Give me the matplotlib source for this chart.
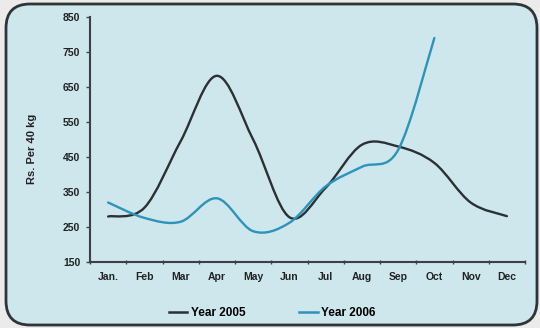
import matplotlib
matplotlib.use("Agg")
import matplotlib.pyplot as plt
from matplotlib.path import Path
from matplotlib.patches import PathPatch, FancyBboxPatch
from matplotlib.lines import Line2D
import numpy as np

plt.rcParams["font.family"] = ["Liberation Sans", "DejaVu Sans"]

months = ["Jan.", "Feb", "Mar", "Apr", "May", "Jun", "Jul", "Aug", "Sep", "Oct", "Nov", "Dec"]
year_2005 = [280, 305, 495, 682, 500, 278, 362, 485, 480, 433, 320, 281]
year_2006 = [320, 276, 265, 332, 238, 262, 366, 422, 470, 790]
y_ticks = [150, 250, 350, 450, 550, 650, 750, 850]

COL_2005 = "#2a3034"
COL_2006 = "#2e93b8"
PANEL = "#cde7ed"

W, H = 540, 328


def smooth_path(xs, ys):
    """Cubic Bezier path through the points (Catmull-Rom style smoothing)."""
    xs = np.asarray(xs, float)
    ys = np.asarray(ys, float)
    n = len(xs)
    verts = [(xs[0], ys[0])]
    codes = [Path.MOVETO]
    for i in range(n - 1):
        p0 = np.array([xs[max(i - 1, 0)], ys[max(i - 1, 0)]])
        p1 = np.array([xs[i], ys[i]])
        p2 = np.array([xs[i + 1], ys[i + 1]])
        p3 = np.array([xs[min(i + 2, n - 1)], ys[min(i + 2, n - 1)]])
        c1 = p1 + (p2 - p0) / 6.0
        c2 = p2 - (p3 - p1) / 6.0
        verts += [tuple(c1), tuple(c2), tuple(p2)]
        codes += [Path.CURVE4] * 3
    return Path(verts, codes)


fig = plt.figure(figsize=(W / 100, H / 100), dpi=100)
fig.patch.set_facecolor("#ebebeb")

# background layer in pixel units holding the rounded panel
bg = fig.add_axes([0, 0, 1, 1], zorder=-5)
bg.set_xlim(0, W)
bg.set_ylim(0, H)
bg.axis("off")
bg.add_patch(FancyBboxPatch((6, 3), 531, 321,
                            boxstyle="round,pad=0,rounding_size=24",
                            facecolor=PANEL, edgecolor="#2f3436",
                            linewidth=2.0))

ax = fig.add_axes([90 / W, 1 - 262 / H, 435 / W, 245 / H], zorder=2)
ax.set_facecolor("none")

x = np.arange(len(months)) + 0.5
for vals, col in ((year_2005, COL_2005), (year_2006, COL_2006)):
    p = smooth_path(x[:len(vals)], vals)
    ax.add_patch(PathPatch(p, facecolor="none", edgecolor=col, lw=1.7,
                           capstyle="round", joinstyle="round", zorder=3))

ax.set_xlim(0, 12)
ax.set_ylim(150, 850)
ax.set_yticks(y_ticks)
ax.set_yticklabels([str(v) for v in y_ticks], fontsize=7.5, fontweight="bold",
                   color="#222222")
ax.set_xticks(np.arange(0, 13))
ax.set_xticklabels([])
ax.set_xticks(x, minor=True)
ax.set_xticklabels(months, minor=True, fontsize=7.5, fontweight="bold",
                   color="#222222")
ax.tick_params(axis="x", which="minor", length=0, pad=7)
ax.tick_params(axis="x", which="major", length=3, width=1, direction="inout",
               color="#444444")
ax.tick_params(axis="y", length=3, width=1, color="#444444", pad=4)
for s in ("top", "right"):
    ax.spines[s].set_visible(False)
for s in ("left", "bottom"):
    ax.spines[s].set_color("#3a4045")
    ax.spines[s].set_linewidth(1.5)

fig.text(32 / W, 1 - 149 / H, "Rs. Per 40 kg", rotation=90, ha="center",
         va="center", fontsize=8, fontweight="bold", color="#222222")

handles = [Line2D([], [], color=COL_2005, lw=1.8),
           Line2D([], [], color=COL_2006, lw=1.8)]
fig.legend(handles, ["Year 2005", "Year 2006"], loc="center",
           bbox_to_anchor=(272 / W, 1 - 313 / H), ncol=2, frameon=False,
           prop={"weight": "bold", "size": 8.5}, handlelength=1.6,
           handletextpad=0.3, columnspacing=4.5)

fig.savefig("out.png", dpi=100, facecolor=fig.get_facecolor())
